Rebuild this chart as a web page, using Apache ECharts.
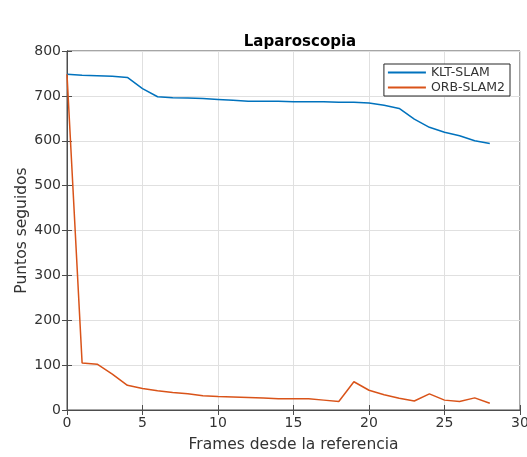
<!DOCTYPE html>
<html><head><meta charset="utf-8">
<script src="https://cdn.jsdelivr.net/npm/echarts@6/dist/echarts.min.js"></script>
<style>html,body{margin:0;padding:0;background:#fff}#c{width:527px;height:457px}</style>
</head><body><div id="c"></div>
<script>
const frames = [0,1,2,3,4,5,6,7,8,9,10,11,12,13,14,15,16,17,18,19,20,21,22,23,24,25,26,27,28];
const kltSlam = [748,746,745,744,741,716,698,696,695,694,692,690,688,688,688,687,687,687,686,686,684,679,672,648,630,619,611,600,594];
const orbSlam2 = [748,105,102,80,55,48,43,39,36,32,30,29,28,27,25,25,25,22,19,63,44,34,26,20,36,22,19,27,15];
const xTicks = [0,5,10,15,20,25,30];
const yTicks = [0,100,200,300,400,500,600,700,800];

const chart = echarts.init(document.getElementById('c'));
const axisCol = '#4d4d4d';
const labelCol = '#333333';
const font = 'DejaVu Sans';
chart.setOption({
  animation:false,
  title:{text:'Laparoscopia',left:295,top:30,textAlign:'center',textStyle:{fontFamily:font,fontSize:15,fontWeight:'bold',color:'#000'}},
  legend:{
    right:17, top:64, orient:'vertical', itemWidth:38, itemHeight:2, itemGap:2,
    borderColor:'#262626', borderWidth:1, padding:[2,5,2,4], borderRadius:0,
    backgroundColor:'#fff',
    textStyle:{fontFamily:font,fontSize:12.5,color:labelCol},
    data:[{name:'KLT-SLAM',icon:'rect'},{name:'ORB-SLAM2',icon:'rect'}]
  },
  grid:{left:67,right:7,top:51,bottom:47,show:true,borderColor:axisCol,borderWidth:1,outerBoundsMode:'none',containLabel:false},
  xAxis:[{
    type:'value',min:0,max:30,interval:5,
    name:'Frames desde la referencia',nameLocation:'middle',nameGap:27,nameMoveOverlap:false,
    nameTextStyle:{fontFamily:font,fontSize:15.5,color:labelCol},
    axisLine:{lineStyle:{color:axisCol}},
    axisTick:{inside:true,length:5,lineStyle:{color:axisCol}},
    axisLabel:{fontFamily:font,fontSize:14,color:labelCol,margin:6},
    splitLine:{show:true,lineStyle:{color:'#e0e0e0'}}
  },{
    type:'value',min:0,max:30,interval:5,position:'top',
    axisLine:{show:true,lineStyle:{color:axisCol}},
    axisTick:{inside:true,length:5,lineStyle:{color:axisCol}},
    axisLabel:{show:false},splitLine:{show:false}
  }],
  yAxis:[{
    type:'value',min:0,max:800,interval:100,
    name:'Puntos seguidos',nameLocation:'middle',nameGap:37,nameMoveOverlap:false,
    nameTextStyle:{fontFamily:font,fontSize:15.5,color:labelCol},
    axisLine:{show:true,lineStyle:{color:axisCol}},
    axisTick:{show:true,inside:true,length:5,lineStyle:{color:axisCol}},
    axisLabel:{fontFamily:font,fontSize:14,color:labelCol,margin:6},
    splitLine:{show:true,lineStyle:{color:'#e0e0e0'}}
  },{
    type:'value',min:0,max:800,interval:100,position:'right',
    axisLine:{show:true,lineStyle:{color:axisCol}},
    axisTick:{show:true,inside:true,length:5,lineStyle:{color:axisCol}},
    axisLabel:{show:false},splitLine:{show:false}
  }],
  series:[
    {name:'KLT-SLAM',type:'line',showSymbol:false,color:'#0072BD',lineStyle:{width:1.5},
     data:frames.map((f,i)=>[f,kltSlam[i]])},
    {name:'ORB-SLAM2',type:'line',showSymbol:false,color:'#D95319',lineStyle:{width:1.5},
     data:frames.map((f,i)=>[f,orbSlam2[i]])}
  ]
});
</script></body></html>
